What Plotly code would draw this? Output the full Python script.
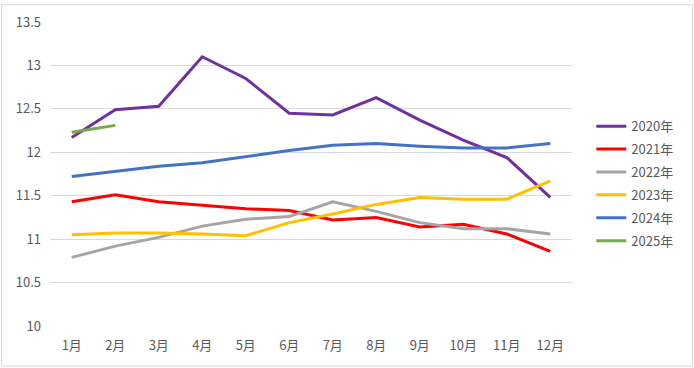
import plotly.graph_objects as go

months = ["1月", "2月", "3月", "4月", "5月", "6月", "7月", "8月", "9月", "10月", "11月", "12月"]
y2020 = [12.17, 12.49, 12.53, 13.10, 12.85, 12.45, 12.43, 12.63, 12.37, 12.14, 11.94, 11.48]
y2021 = [11.43, 11.51, 11.43, 11.39, 11.35, 11.33, 11.22, 11.25, 11.14, 11.17, 11.06, 10.86]
y2022 = [10.79, 10.92, 11.02, 11.15, 11.23, 11.26, 11.43, 11.32, 11.19, 11.12, 11.12, 11.06]
y2023 = [11.05, 11.07, 11.07, 11.06, 11.04, 11.19, 11.29, 11.40, 11.48, 11.46, 11.46, 11.67]
y2024 = [11.72, 11.78, 11.84, 11.88, 11.95, 12.02, 12.08, 12.10, 12.07, 12.05, 12.05, 12.10]
y2025 = [12.23, 12.31]
series_names = ["2020年", "2021年", "2022年", "2023年", "2024年", "2025年"]
ytickvals = [10, 10.5, 11, 11.5, 12, 12.5, 13, 13.5]
yticktext = ["10", "10.5", "11", "11.5", "12", "12.5", "13", "13.5"]

colors = ["#7030A0", "#FF0000", "#A5A5A5", "#FFC000", "#4472C4", "#70AD47"]
data = [y2020, y2021, y2022, y2023, y2024, y2025]

fig = go.Figure()
for name, vals, c in zip(series_names, data, colors):
    fig.add_trace(go.Scatter(x=months[:len(vals)], y=vals, name=name, mode="lines",
                             legendgroup=name,
                             line=dict(color=c, width=3)))

W, H = 694, 368
ml, mr, mt, mb = 50, 122, 19, 42
pw, ph = W - ml - mr, H - mt - mb

fig.update_layout(
    width=W, height=H,
    margin=dict(l=ml, r=mr, t=mt, b=mb),
    paper_bgcolor="white", plot_bgcolor="white",
    font=dict(family="Noto Sans CJK SC, sans-serif", size=13, color="#595959"),
    showlegend=True,
    legend=dict(x=1.037, y=0.7065, xanchor="left", yanchor="top",
                font=dict(size=13, color="#595959"), tracegroupgap=3,
                itemwidth=30, bgcolor="rgba(0,0,0,0)"),
    xaxis=dict(type="category", range=[-0.5, 11.5], showgrid=False, showline=False,
               ticks="", tickfont=dict(size=13, color="#595959"), fixedrange=True,
               ticklabelstandoff=10),
    yaxis=dict(range=[10, 13.5], tickvals=ytickvals, ticktext=yticktext,
               showgrid=True, gridcolor="#D9D9D9", gridwidth=1, zeroline=False,
               showline=False, ticks="", tickfont=dict(size=13, color="#595959"),
               fixedrange=True, ticklabelstandoff=8),
)
fig.add_shape(type="rect", xref="paper", yref="paper",
              x0=(1.5 - ml) / pw, x1=(W - 1.5 - ml) / pw,
              y0=-(mb - 1.5) / ph, y1=1 + (mt - 1.5) / ph,
              line=dict(color="#D9D9D9", width=1), layer="below")

fig.write_html("out.html", config={"displayModeBar": False},
               post_script="document.body.style.margin='0';document.body.style.padding='0';")
